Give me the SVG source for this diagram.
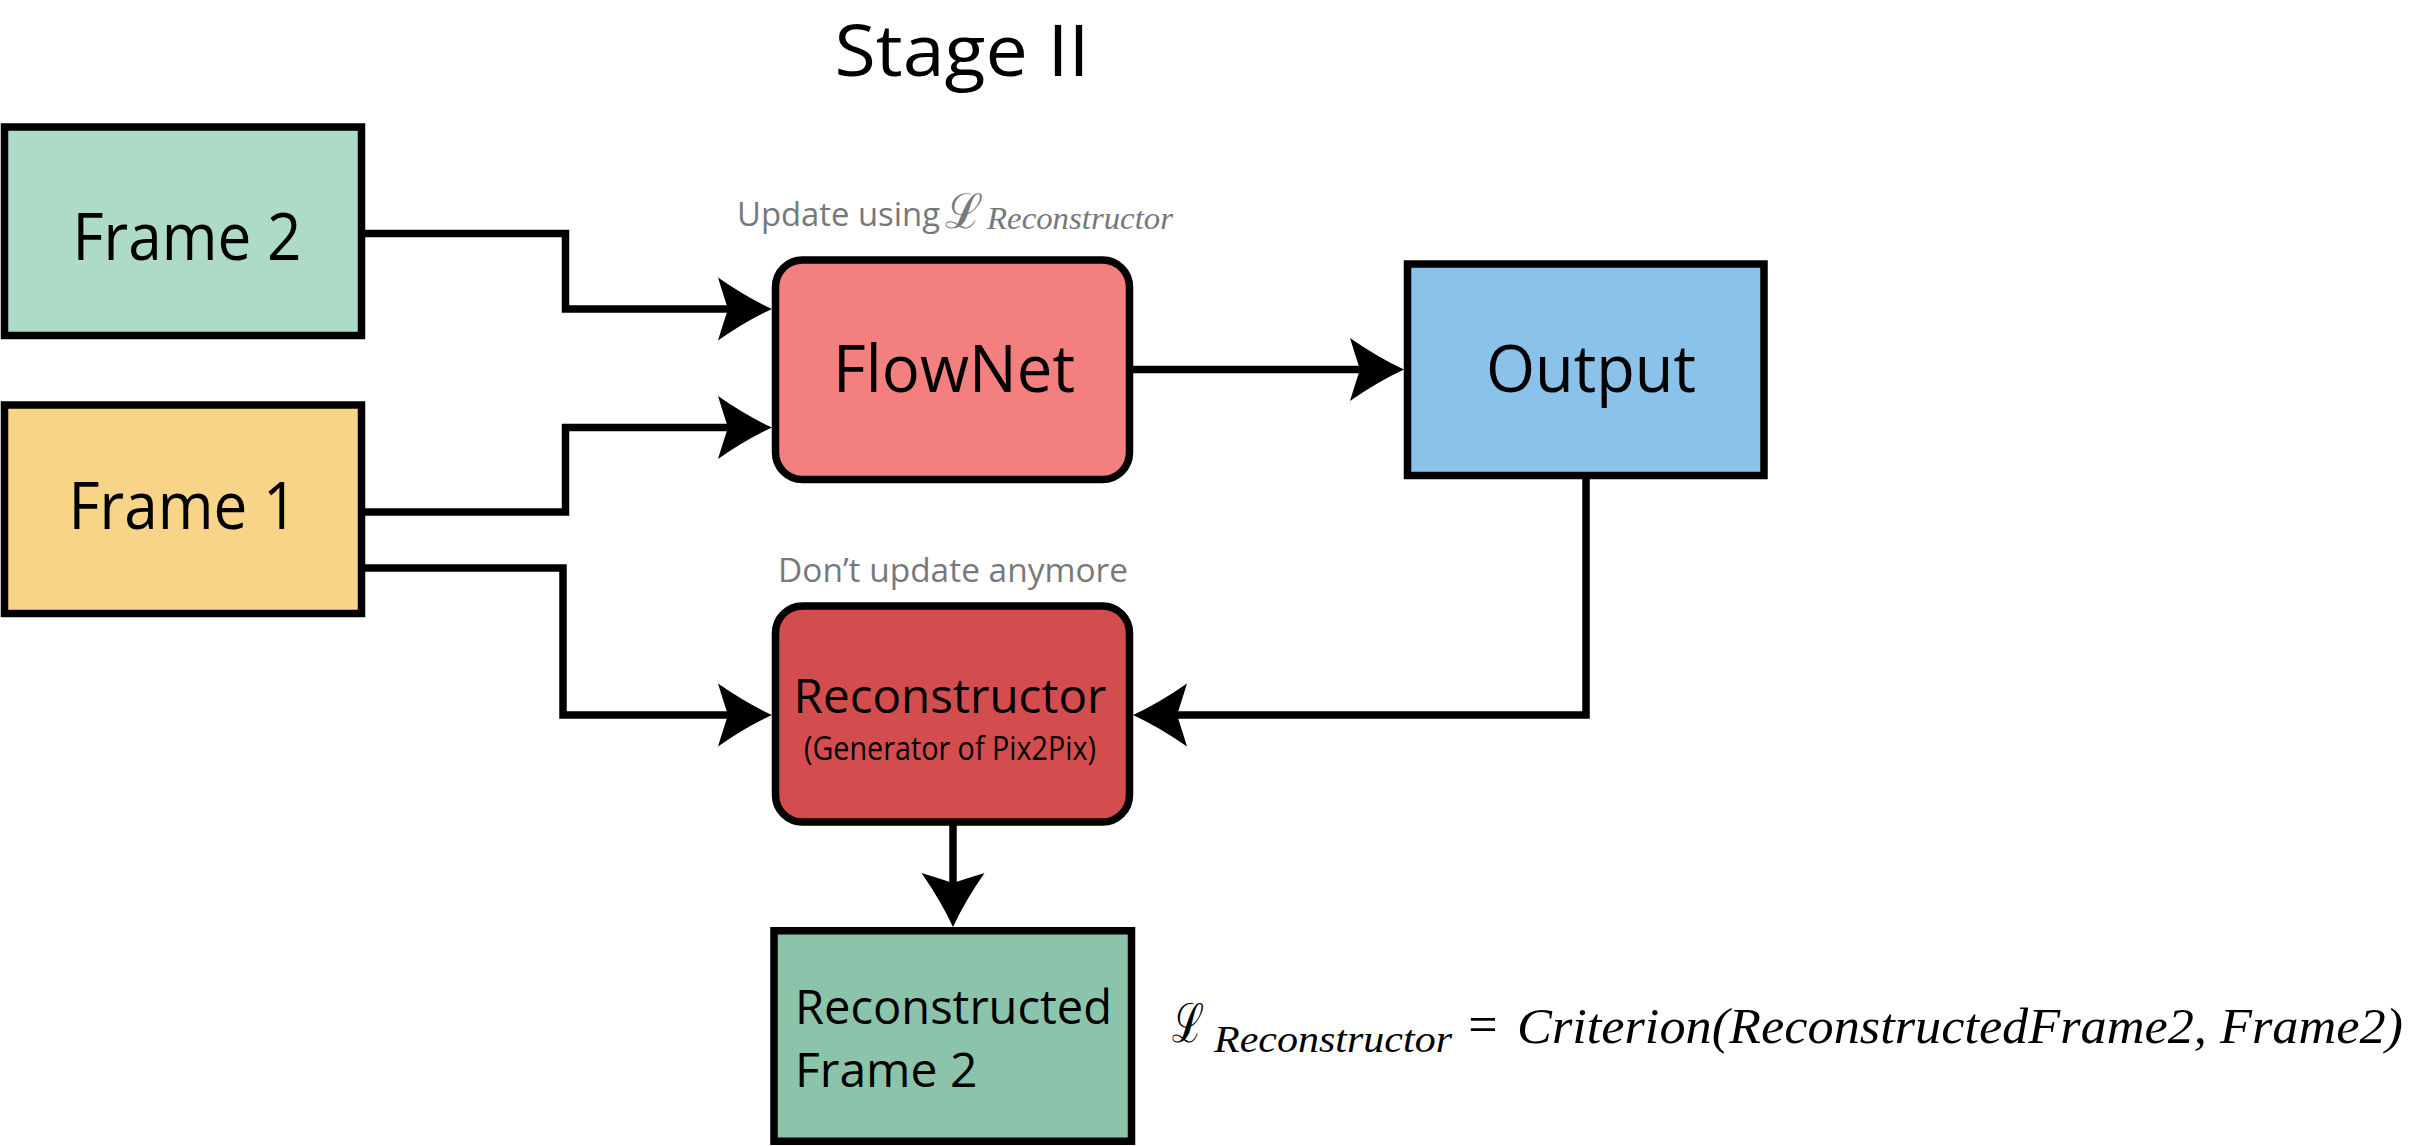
<svg xmlns="http://www.w3.org/2000/svg" width="2416" height="1146" viewBox="0 0 2416 1146">
<style>
  .box { stroke: #000; stroke-width: 7.5; }
  .lbl { font-family: "Open Sans", "Liberation Sans", sans-serif; fill: #000; text-anchor: middle; }
  .big { font-size: 65px; }
  .note { font-family: "Open Sans", "Liberation Sans", sans-serif; fill: #77787b; font-size: 32px; }
  .conn { fill: none; stroke: #000; stroke-width: 7.5; marker-end: url(#arrow); }
  .math { font-family: "Liberation Serif", "DejaVu Serif", serif; font-style: italic; }
  .cal { font-family: "DejaVu Serif", "Liberation Serif", serif; }
</style>
<defs>
  <marker id="arrow" markerUnits="userSpaceOnUse" viewBox="-12 -34 60 68" refX="0" refY="0" markerWidth="60" markerHeight="68" orient="auto" overflow="visible">
    <path d="M 44 0 Q 18 -12 -10 -31.5 Q -4 -12 0 0 Q -4 12 -10 31.5 Q 18 12 44 0 Z" fill="#000"/>
  </marker>
</defs>

<text x="962" y="76" class="lbl" font-size="72" textLength="255" lengthAdjust="spacingAndGlyphs">Stage II</text>

<g id="connectors">
  <path class="conn" d="M 361.5 233.5 H 565.5 V 309 H 728"/>
  <path class="conn" d="M 361.5 512 H 565.5 V 427.5 H 728"/>
  <path class="conn" d="M 361.5 568 H 563 V 715 H 728"/>
  <path class="conn" d="M 1129.5 369.5 H 1360"/>
  <path class="conn" d="M 1586 475.5 V 715 H 1177"/>
  <path class="conn" d="M 953 822 V 883"/>
</g>

<g id="frame2">
  <rect class="box" x="4.5" y="127" width="357" height="208.5" fill="#addbc8"/>
  <text x="187" y="260" class="lbl big" textLength="229" lengthAdjust="spacingAndGlyphs">Frame 2</text>
</g>

<g id="frame1">
  <rect class="box" x="4.5" y="405" width="357" height="208.5" fill="#f7d488"/>
  <text x="183" y="529" class="lbl big" textLength="229" lengthAdjust="spacingAndGlyphs">Frame 1</text>
</g>

<g id="flownet">
  <text x="737" y="226" class="note" textLength="203" lengthAdjust="spacingAndGlyphs">Update using</text>
  <text x="945" y="228" class="cal" font-size="48" fill="#77787b" textLength="38" lengthAdjust="spacingAndGlyphs">ℒ</text>
  <text x="987" y="229" class="math" font-size="32" fill="#77787b" textLength="186" lengthAdjust="spacingAndGlyphs">Reconstructor</text>
  <rect class="box" x="775.5" y="260" width="354" height="219.5" rx="27" fill="#f37f7e"/>
  <text x="954" y="392" class="lbl big" textLength="242" lengthAdjust="spacingAndGlyphs">FlowNet</text>
</g>

<g id="output">
  <rect class="box" x="1407.5" y="264" width="356.5" height="211.5" fill="#8bc2e9"/>
  <text x="1591" y="392" class="lbl big" textLength="210" lengthAdjust="spacingAndGlyphs">Output</text>
</g>

<g id="reconstructor">
  <text x="778" y="582" class="note" textLength="350" lengthAdjust="spacingAndGlyphs">Don’t update anymore</text>
  <rect class="box" x="775.5" y="606" width="354" height="216" rx="27" fill="#d34c4e"/>
  <text x="950" y="713" class="lbl" font-size="47" textLength="313" lengthAdjust="spacingAndGlyphs">Reconstructor</text>
  <text x="950" y="760" class="lbl" font-size="32" textLength="292" lengthAdjust="spacingAndGlyphs">(Generator of Pix2Pix)</text>
</g>

<g id="reconstructed-frame2">
  <rect class="box" x="774" y="930.75" width="357.5" height="210.5" fill="#8bc4aa"/>
  <text x="795" y="1024" font-family="Open Sans, Liberation Sans, sans-serif" font-size="48" fill="#000" textLength="317" lengthAdjust="spacingAndGlyphs">Reconstructed</text>
  <text x="795" y="1087" font-family="Open Sans, Liberation Sans, sans-serif" font-size="48" fill="#000">Frame 2</text>
</g>

<g id="formula">
  <text x="1172" y="1042" class="cal" font-size="54" fill="#000" textLength="32" lengthAdjust="spacingAndGlyphs">ℒ</text>
  <text x="1214" y="1052" class="math" font-size="38" fill="#000" textLength="238" lengthAdjust="spacingAndGlyphs">Reconstructor</text>
  <text x="1483" y="1042" font-family="Liberation Serif, serif" font-size="52" fill="#000" text-anchor="middle">=</text>
  <text x="1517" y="1043" class="math" font-size="50" fill="#000" textLength="886" lengthAdjust="spacingAndGlyphs">Criterion(ReconstructedFrame2, Frame2)</text>
</g>
</svg>
